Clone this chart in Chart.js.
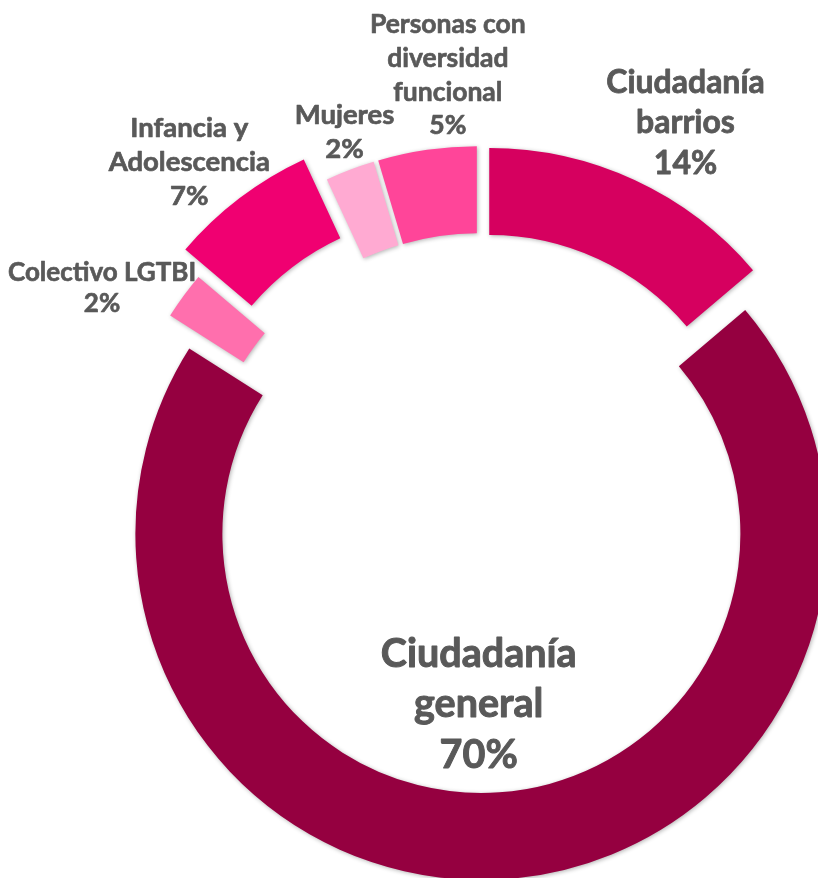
<!DOCTYPE html>
<html>
<head>
<meta charset="utf-8">
<script src="https://cdn.jsdelivr.net/npm/chart.js@4.4.1/dist/chart.umd.min.js"></script>
<style>
  html, body { margin: 0; padding: 0; background: #fff; }
  #wrap { width: 818px; height: 878px; position: relative; }
</style>
</head>
<body>
<div id="wrap"><canvas id="grafico"></canvas></div>
<script>
const categorias = [
  ['Ciudadanía', 'barrios'],
  ['Ciudadanía', 'general'],
  ['Colectivo LGTBI'],
  ['Infancia y', 'Adolescencia'],
  ['Mujeres'],
  ['Personas con', 'diversidad', 'funcional']
];
const valores = [13.8, 70.2, 2.2, 6.9, 2.3, 4.6];
const colores = ['#D6005F', '#950040', '#FF6FAD', '#F00071', '#FFAAD2', '#FF4599'];

// estilo: separación de cada sector y colocación de las etiquetas
const separacion = [22, 20, 22, 51, 22, 22];
const etiquetaDist = [443, 189, 441, 457, 406, 441];
const etiquetaGiro = [2.8, 4.35, -5.35, -2.25, 1.2, 4.1];
const etiquetaFuente = [32, 39.5, 26, 27.5, 27.5, 26.5];
const etiquetaLinea = [40.5, 50.5, 31, 34, 34, 33.7];

const total = valores.reduce((a, b) => a + b, 0);

// dibuja los sectores desplazados con sombra suave
const sectoresSeparados = {
  id: 'sectoresSeparados',
  beforeDatasetsDraw(chart) {
    const ctx = chart.ctx;
    chart.getDatasetMeta(0).data.forEach((arc, i) => {
      const mid = (arc.startAngle + arc.endAngle) / 2;
      ctx.save();
      ctx.translate(Math.cos(mid) * separacion[i], Math.sin(mid) * separacion[i]);
      ctx.shadowColor = 'rgba(0,0,0,0.3)';
      ctx.shadowBlur = 4;
      ctx.shadowOffsetX = 1;
      ctx.shadowOffsetY = 1;
      arc.draw(ctx);
      ctx.restore();
    });
    return false;
  },
  // etiquetas (afterDraw porque afterDatasetsDraw se salta al cancelar el dibujo)
  afterDraw(chart) {
    const ctx = chart.ctx;
    ctx.save();
    ctx.fillStyle = '#595959';
    ctx.strokeStyle = '#595959';
    ctx.lineJoin = 'round';
    ctx.textAlign = 'center';
    ctx.textBaseline = 'alphabetic';
    chart.getDatasetMeta(0).data.forEach((arc, i) => {
      const ang = (arc.startAngle + arc.endAngle) / 2 + etiquetaGiro[i] * Math.PI / 180;
      const cx = arc.x + Math.cos(ang) * etiquetaDist[i];
      const cy = arc.y + Math.sin(ang) * etiquetaDist[i];
      const lineas = categorias[i].concat([Math.round(valores[i] / total * 100) + '%']);
      const fs = etiquetaFuente[i];
      const lh = etiquetaLinea[i];
      const cap = fs * 0.717;
      ctx.font = 'bold ' + fs + 'px Lato';
      ctx.lineWidth = fs * 0.025;
      let y = cy - ((lineas.length - 1) * lh + cap) / 2 + cap;
      lineas.forEach(t => {
        ctx.fillText(t, cx, y);
        ctx.strokeText(t, cx, y);
        y += lh;
      });
    });
    ctx.restore();
  }
};

const ctx = document.getElementById('grafico').getContext('2d');
new Chart(ctx, {
  type: 'doughnut',
  data: {
    labels: categorias,
    datasets: [{
      data: valores,
      backgroundColor: colores,
      borderWidth: 0
    }]
  },
  options: {
    responsive: true,
    maintainAspectRatio: false,
    animation: false,
    radius: 346,
    cutout: '74.86%',
    layout: { padding: { left: 142, right: 0, top: 150, bottom: 0 } },
    plugins: {
      legend: { display: false },
      tooltip: { enabled: false }
    }
  },
  plugins: [sectoresSeparados]
});
</script>
</body>
</html>
